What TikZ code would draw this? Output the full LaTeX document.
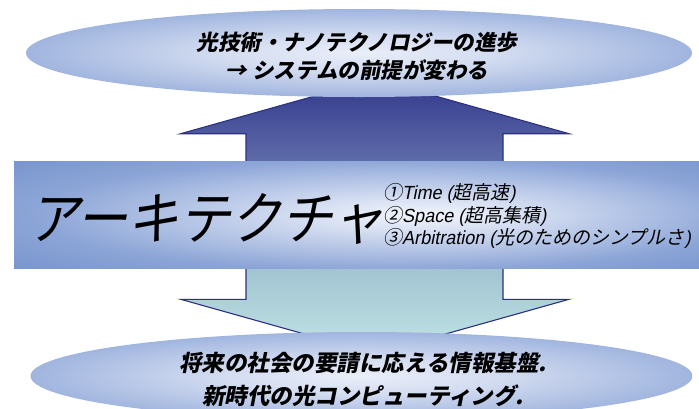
\documentclass[tikz,border=0pt]{standalone}
\usepackage{fontspec}
\newfontfamily\cjk{Noto Sans CJK JP}[FakeSlant=0.2]
\newfontfamily\cjkbig{Noto Sans CJK JP}[FakeSlant=0.2,FakeStretch=0.9]
\newfontfamily\lat{Liberation Sans}[FakeSlant=0.2,FakeStretch=0.95]
\usetikzlibrary{shapes.geometric}
\definecolor{ellC}{RGB}{234,238,249}
\definecolor{ellA}{RGB}{212,221,241}
\definecolor{ellB}{RGB}{150,173,219}
\definecolor{ellE}{RGB}{108,138,200}
\definecolor{recC}{RGB}{242,245,252}
\definecolor{recA}{RGB}{214,223,242}
\definecolor{recB}{RGB}{140,165,215}
\definecolor{recE}{RGB}{110,141,200}
\definecolor{upT}{RGB}{50,56,140}
\definecolor{upB}{RGB}{96,110,170}
\definecolor{dnT}{RGB}{160,193,208}
\definecolor{dnB}{RGB}{192,229,229}
\definecolor{navy}{RGB}{44,48,128}
\pgfdeclareradialshading{ellshade}{\pgfpoint{0bp}{0bp}}{color(0bp)=(ellC); color(10bp)=(ellA); color(28bp)=(ellB); color(44bp)=(ellE); color(50bp)=(ellE)}
\pgfdeclareradialshading{rectshade}{\pgfpoint{5bp}{0bp}}{color(0bp)=(recC); color(8bp)=(recA); color(26bp)=(recB); color(42bp)=(recE); color(50bp)=(recE)}
\tikzset{
  blockarrow/.style={draw=navy, line width=1.1pt, line join=miter},
  ellbox/.style={ellipse, inner sep=0pt, shade, shading=ellshade},
  archbox/.style={rectangle, inner sep=0pt, shade, shading=rectshade},
  toptext/.style={align=center, inner sep=0pt, font=\cjk\bfseries\fontsize{21.5}{28}\selectfont},
  bottext/.style={align=center, inner sep=0pt, font=\cjk\bfseries\fontsize{22.5}{33}\selectfont},
  bigtext/.style={anchor=west, inner sep=0pt, font=\cjkbig\fontsize{57}{60}\selectfont},
  listtext/.style={anchor=west, align=left, inner sep=0pt, font=\fontsize{19}{22.5}\selectfont}
}
\begin{document}
\begin{tikzpicture}[x=1pt, y=-1pt]
\useasboundingbox (0,0) rectangle (699,408);
\clip (0,0) rectangle (699,408);
% block arrows
\draw[blockarrow, top color=upT, bottom color=upB]
  (246,165) -- (246,133.7) -- (180.7,133.7) -- (375,79) -- (569,133.7) -- (503,133.7) -- (503,165) -- cycle;
\draw[blockarrow, top color=dnT, bottom color=dnB]
  (246,262) -- (246,299.3) -- (180.7,299.3) -- (375,353.8) -- (569,299.3) -- (503,299.3) -- (503,262) -- cycle;
% ellipses and band
\node[ellbox, minimum width=666pt, minimum height=88pt] (top) at (359,53) {};
\node[ellbox, minimum width=662pt, minimum height=88pt] (bottom) at (361.5,376) {};
\node[archbox, minimum width=685pt, minimum height=107pt] (arch) at (356.5,214.5) {};
% texts
\node[toptext] (toptxt) at (357,56) {光技術・ナノテクノロジーの進歩\\→ システムの前提が変わる};
\node[bottext] (bottxt) at (363,379) {将来の社会の要請に応える情報基盤.\\新時代の光コンピューティング.};
\node[bigtext] (archtxt) at (28,219) {アーキテクチャ};
\node[listtext] (list) at (383,216) {{\cjk ①}{\lat Time (}{\cjk 超高速}{\lat )}\\{\cjk ②}{\lat Space (}{\cjk 超高集積}{\lat )}\\{\cjk ③}{\lat Arbitration (}{\cjk 光のためのシンプルさ}{\lat )}};
\end{tikzpicture}
\end{document}
